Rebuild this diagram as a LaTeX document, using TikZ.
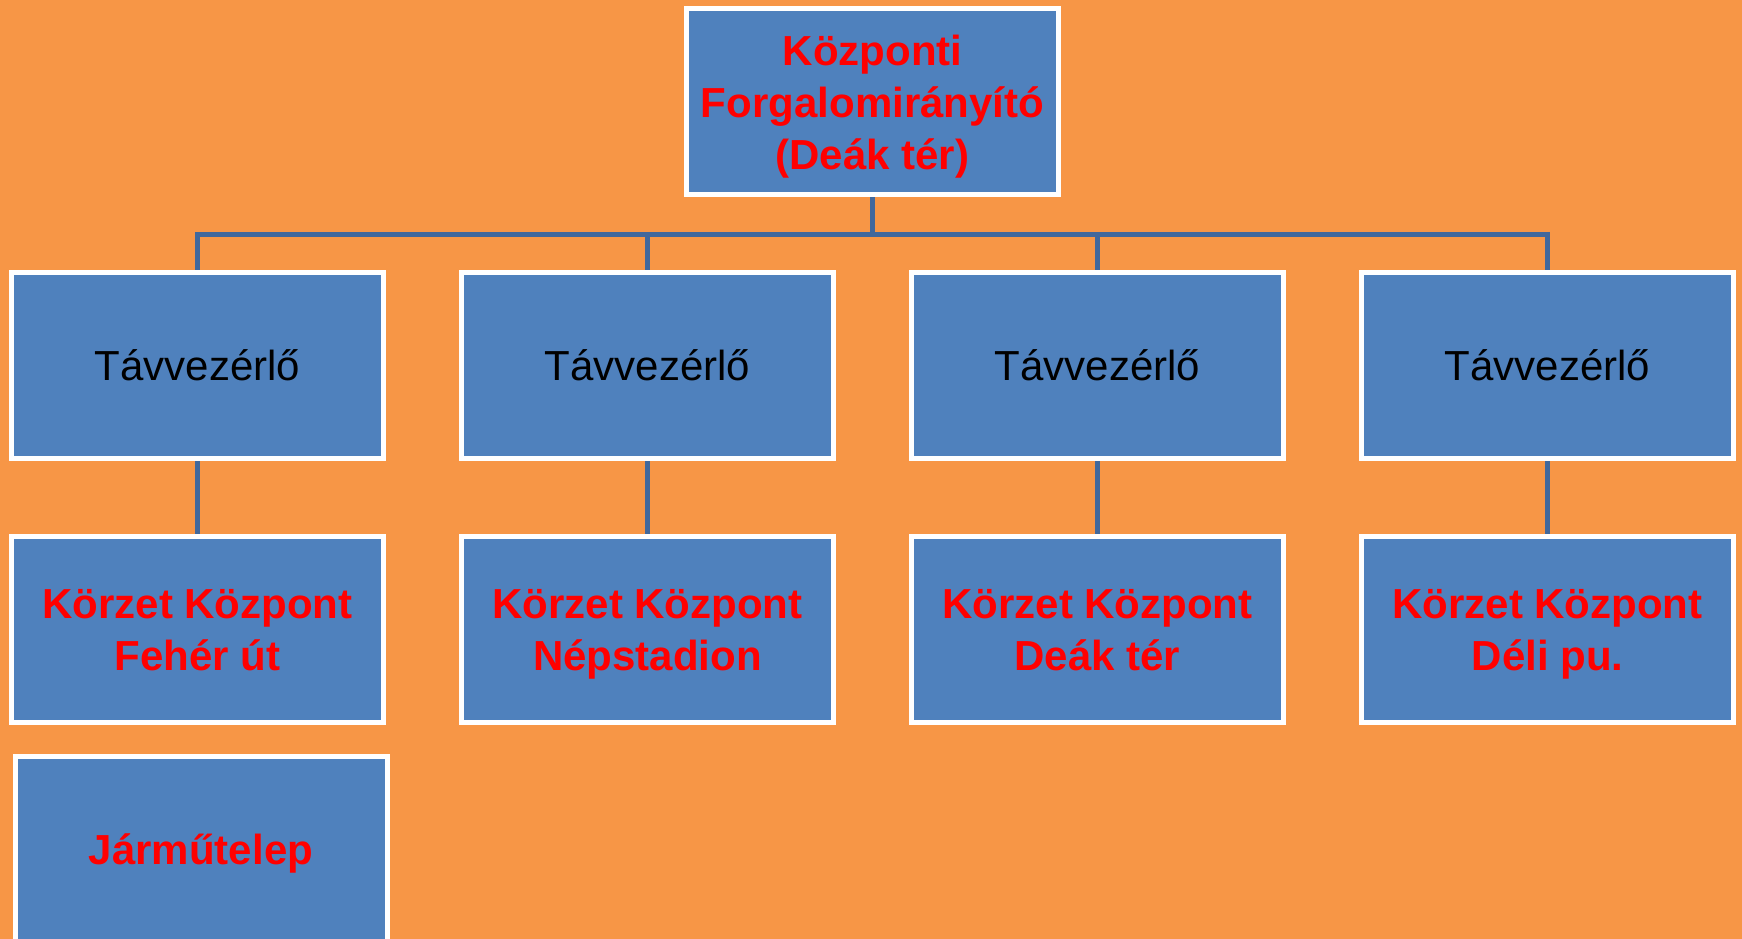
\documentclass[tikz,border=0pt]{standalone}
\usepackage{fontspec}
\setmainfont{Liberation Sans}
\definecolor{bgorange}{HTML}{F79646}
\definecolor{boxblue}{HTML}{4F81BD}
\definecolor{linkblue}{HTML}{41689C}
\definecolor{txtred}{HTML}{FF0000}
\tikzset{
  orgbox/.style={draw=white, line width=5pt, fill=boxblue, minimum width=372pt, minimum height=186pt,
    align=center, inner sep=0pt, font=\fontsize{42}{52}\selectfont},
  redtxt/.style={text=txtred, font=\fontsize{42}{52}\selectfont\bfseries, text depth=0pt},
  blacktxt/.style={text=black},
  conn/.style={draw=linkblue, line width=5pt}
}
\begin{document}
\begin{tikzpicture}[x=1pt,y=-1pt]
\useasboundingbox (0,0) rectangle (1742,939);
\clip (0,0) rectangle (1742,939);
\fill[bgorange] (0,0) rectangle (1742,939);
\node[orgbox,redtxt,text height=136pt] (top) at (872.5,101.5) {Központi\\Forgalomirányító\\(Deák tér)};
\node[orgbox,blacktxt] (t1) at (197.5,365.5) {Távvezérlő};
\node[orgbox,blacktxt] (t2) at (647.5,365.5) {Távvezérlő};
\node[orgbox,blacktxt] (t3) at (1097.5,365.5) {Távvezérlő};
\node[orgbox,blacktxt] (t4) at (1547.5,365.5) {Távvezérlő};
\node[orgbox,redtxt,text height=82pt] (k1) at (197.5,629) {Körzet Központ\\Fehér út};
\node[orgbox,redtxt,text height=82pt] (k2) at (647.5,629) {Körzet Központ\\Népstadion};
\node[orgbox,redtxt,text height=82pt] (k3) at (1097.5,629) {Körzet Központ\\Deák tér};
\node[orgbox,redtxt,text height=82pt] (k4) at (1547.5,629) {Körzet Központ\\Déli pu.};
\node[orgbox,redtxt,text height=30pt] (j1) at (201,849.5) {Járműtelep};
\coordinate (bus) at (872.5,234);
\foreach \i in {1,2,3,4}{
  \draw[conn] (top.south) -- (bus) -| (t\i.north);
  \draw[conn] (t\i.south) -- (k\i.north);
}
\end{tikzpicture}
\end{document}
